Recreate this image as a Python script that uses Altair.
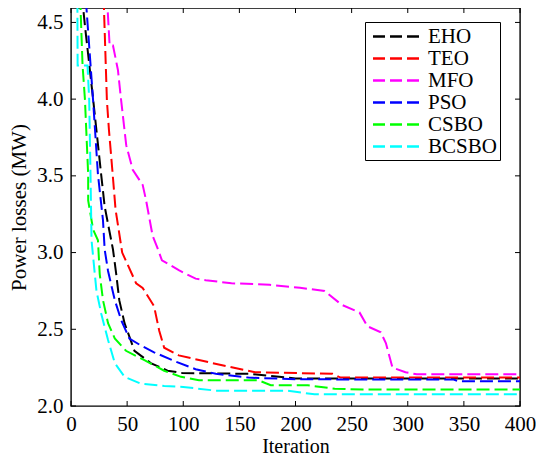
import altair as alt
import pandas as pd

# ---- data ----
algorithms = ["EHO", "TEO", "MFO", "PSO", "CSBO", "BCSBO"]
colors = ["#000000", "#ff0000", "#ff00ff", "#0000ff", "#00ff00", "#00ffff"]

eho_iter = [8, 12.4, 19.7, 27, 30, 37.4, 40.3, 43, 47.7, 56.5, 71, 86, 99, 158, 200, 400]
eho_loss = [4.80, 4.48, 4.00, 3.50, 3.30, 3.02, 2.86, 2.69, 2.54, 2.36, 2.28, 2.23, 2.215, 2.21, 2.18, 2.18]

teo_iter = [28, 32, 33.8, 36.8, 39.7, 45.6, 58, 63.8, 74, 78.6, 83, 96, 114, 138, 164, 233, 240, 400]
teo_loss = [4.90, 3.99, 3.80, 3.54, 3.28, 3.00, 2.80, 2.77, 2.65, 2.49, 2.38, 2.33, 2.30, 2.26, 2.22, 2.21, 2.185, 2.185]

mfo_iter = [31, 34.4, 37.4, 41.8, 44.7, 49.2, 55, 63.9, 66.9, 72.7, 77, 81, 96, 111, 120, 143, 177, 204,
            226, 241, 257, 264, 276, 280.5, 286.4, 298, 308, 400]
mfo_loss = [4.80, 4.35, 4.35, 4.19, 3.99, 3.70, 3.54, 3.44, 3.34, 3.11, 3.03, 2.95, 2.885, 2.83, 2.82, 2.80, 2.79, 2.77,
            2.75, 2.66, 2.61, 2.52, 2.48, 2.41, 2.25, 2.22, 2.207, 2.207]

pso_iter = [10, 13.8, 19.7, 24, 28.5, 30, 33, 39, 44.7, 52, 61, 74, 93, 111, 129, 158, 202, 341, 345, 400]
pso_loss = [5.00, 4.59, 3.99, 3.51, 3.21, 3.02, 2.88, 2.69, 2.56, 2.44, 2.40, 2.35, 2.29, 2.24, 2.21, 2.185, 2.174, 2.172, 2.161, 2.161]

csbo_iter = [7, 10.3, 12.4, 15.3, 15.3, 19.7, 24, 25.6, 28.5, 33, 39, 49, 65, 83, 98, 114, 167, 178, 211, 235, 260, 400]
csbo_loss = [4.90, 4.22, 4.00, 3.51, 3.34, 3.15, 3.08, 2.86, 2.69, 2.54, 2.44, 2.36, 2.30, 2.23, 2.19, 2.168, 2.168, 2.135, 2.135, 2.113, 2.107, 2.107]

bcsbo_iter = [5.5, 5.9, 14.7, 16.2, 17.4, 18.3, 21.2, 22.7, 27, 33, 39, 47.7, 62, 83, 100, 129, 193, 217, 400]
bcsbo_loss = [5.00, 4.22, 4.22, 4.00, 3.50, 3.08, 2.86, 2.75, 2.60, 2.43, 2.28, 2.19, 2.146, 2.13, 2.124, 2.10, 2.10, 2.076, 2.076]

x_ticks = [0, 50, 100, 150, 200, 250, 300, 350, 400]
y_ticks = [2.0, 2.5, 3.0, 3.5, 4.0, 4.5]

series = {
    "EHO": (eho_iter, eho_loss),
    "TEO": (teo_iter, teo_loss),
    "MFO": (mfo_iter, mfo_loss),
    "PSO": (pso_iter, pso_loss),
    "CSBO": (csbo_iter, csbo_loss),
    "BCSBO": (bcsbo_iter, bcsbo_loss),
}

rows = []
for name in algorithms:
    its, vals = series[name]
    for i, (it, v) in enumerate(zip(its, vals)):
        rows.append({"alg": name, "iter": it, "loss": v, "idx": i})
df = pd.DataFrame(rows)

W, H = 449, 398
FONT = "'Liberation Serif', 'Times New Roman', Times, serif"

xscale = alt.Scale(domain=[0, 400], nice=False, zero=False)
yscale = alt.Scale(domain=[2.0, 4.594], nice=False, zero=False)
xaxis = alt.Axis(title="Iteration", values=x_ticks, labelPadding=7, titlePadding=2, labelFlush=False,
                 titleFontSize=20)
yaxis = alt.Axis(title="Power losses (MW)", values=y_ticks, format=".1f", labelFlush=False,
                 labelPadding=8, titlePadding=7)

lines = alt.Chart(df).mark_line(strokeWidth=2, strokeDash=[13, 5], clip=True).encode(
    x=alt.X("iter:Q", scale=xscale, axis=xaxis, title="Iteration"),
    y=alt.Y("loss:Q", scale=yscale, axis=yaxis, title="Power losses (MW)"),
    color=alt.Color("alg:N", scale=alt.Scale(domain=algorithms, range=colors),
                    legend=alt.Legend(title=None, orient="none", legendX=294, legendY=14,
                                      symbolType="M-2.35,0H2.35", symbolSize=400,
                                      symbolStrokeWidth=2.5, symbolDash=[12, 5],
                                      symbolOffset=17, labelOffset=20,
                                      labelFont=FONT, labelFontSize=21,
                                      strokeColor="black", fillColor="white",
                                      padding=3, rowPadding=0)),
    order="idx:Q",
)

xt = pd.DataFrame({"t": x_ticks})
yt = pd.DataFrame({"t": y_ticks})

tick_bottom = alt.Chart(xt).mark_rule(color="black", strokeWidth=1).encode(
    x=alt.X("t:Q", scale=xscale, axis=xaxis, title="Iteration"), y=alt.value(H), y2=alt.value(H - 5))
tick_top = alt.Chart(xt).mark_rule(color="black", strokeWidth=1).encode(
    x=alt.X("t:Q", scale=xscale, axis=xaxis, title="Iteration"), y=alt.value(0), y2=alt.value(5))
tick_left = alt.Chart(yt).mark_rule(color="black", strokeWidth=1).encode(
    y=alt.Y("t:Q", scale=yscale, axis=yaxis, title="Power losses (MW)"), x=alt.value(0), x2=alt.value(5))
tick_right = alt.Chart(yt).mark_rule(color="black", strokeWidth=1).encode(
    y=alt.Y("t:Q", scale=yscale, axis=yaxis, title="Power losses (MW)"), x=alt.value(W), x2=alt.value(W - 5))

chart = alt.layer(lines, tick_bottom, tick_top, tick_left, tick_right).properties(
    width=W, height=H,
    autosize=alt.AutoSizeParams(type="none"),
    padding={"left": 63, "top": 0, "right": 16, "bottom": 50},
).configure_view(stroke="black", strokeWidth=1.4).configure_axis(
    labelFont=FONT, labelFontSize=21, labelColor="black",
    titleFont=FONT, titleFontSize=21, titleFontWeight="normal", titleColor="black",
    grid=False, domain=False, ticks=False,
).configure_legend(labelColor="black", labelFont=FONT, labelFontSize=21)

chart.save("out.html", embed_options={"renderer": "svg", "actions": False})
